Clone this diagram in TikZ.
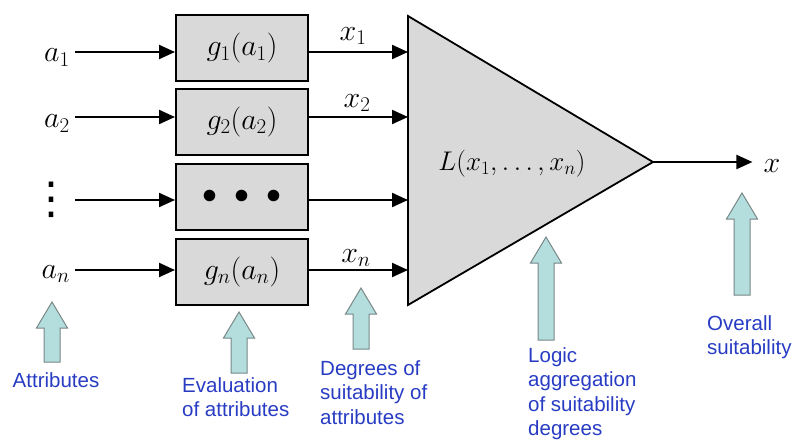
\RequirePackage{fix-cm}
\documentclass[tikz,border=0pt]{standalone}
\usepackage{fontspec}
\newfontfamily\notefont{Liberation Sans}
\newfontfamily\symfont{DejaVu Sans}
\usetikzlibrary{arrows.meta}

\definecolor{boxgray}{RGB}{217,217,217}
\definecolor{notecyan}{RGB}{180,222,222}
\definecolor{noteedge}{RGB}{120,135,135}
\definecolor{noteblue}{RGB}{40,60,195}

\tikzset{
  flow/.style={line width=2.2pt, -{Triangle[length=16pt,width=14pt]}},
  mathlabel/.style={font=\fontsize{30}{34}\selectfont, inner sep=0pt},
  evalbox/.style={mathlabel, draw, line width=2pt, fill=boxgray, minimum width=132pt, minimum height=66pt},
  note/.style={font=\notefont\fontsize{20.5}{24.5}\selectfont, text=noteblue, align=left, inner sep=0pt},
}

% light block arrow pointing up: centre x, top y, bottom y
\newcommand{\uparrowblock}[3]{%
  \draw[fill=notecyan, draw=noteedge, line width=1pt, line join=miter]
    (#1-8,#3) -- (#1-8,#2+26) -- (#1-15.5,#2+26) -- (#1,#2)
    -- (#1+15.5,#2+26) -- (#1+8,#2+26) -- (#1+8,#3) -- cycle;}

\begin{document}
\begin{tikzpicture}[x=1pt,y=-1pt]
    \useasboundingbox (0,0) rectangle (801,444);

    % signal levels
    \coordinate (r1) at (0,52);
    \coordinate (r2) at (0,117);
    \coordinate (r3) at (0,200);
    \coordinate (rn) at (0,270);
    \coordinate (lin) at (408,0);

    % attributes
    \node[mathlabel, anchor=base east] (a1) at (70,62) {$a_1$};
    \node[mathlabel, anchor=base east] (a2) at (70,128) {$a_2$};
    \node[mathlabel, font=\symfont\fontsize{44}{46}\selectfont] (adots) at (52,200) {⋮};
    \node[mathlabel, anchor=base east] (an) at (70,278) {$a_n$};

    % evaluation of attributes
    \node[evalbox] (g1) at (242,48.5) {$g_1(a_1)$};
    \node[evalbox] (g2) at (242,122) {$g_2(a_2)$};
    \node[evalbox] (g3) at (242,197) {$\bullet\hspace{10pt}\bullet\hspace{10pt}\bullet$};
    \node[evalbox] (gn) at (242,271.5) {$g_n(a_n)$};

    \draw[flow] ([xshift=5pt]a1.east |- r1) -- (g1.west |- r1);
    \draw[flow] ([xshift=5pt]a2.east |- r2) -- (g2.west |- r2);
    \draw[flow] (adots.center |- r3) ++(23,0) -- (g3.west |- r3);
    \draw[flow] ([xshift=5pt]an.east |- rn) -- (gn.west |- rn);

    % degrees of suitability
    \draw[flow] (g1.east |- r1) -- (lin |- r1);
    \draw[flow] (g2.east |- r2) -- (lin |- r2);
    \draw[flow] (g3.east |- r3) -- (lin |- r3);
    \draw[flow] (gn.east |- rn) -- (lin |- rn);
    \node[mathlabel] (x1) at (353,36) {$x_1$};
    \node[mathlabel] (x2) at (357,103) {$x_2$};
    \node[mathlabel] (xn) at (356,258) {$x_n$};

    % logic aggregation
    \filldraw[fill=boxgray, line width=1.8pt, line join=miter] (408,16) -- (653,162) -- (408,305) -- cycle;
    \coordinate (tip) at (653,162);
    \node[mathlabel, font=\fontsize{27}{30}\selectfont] (agg) at (512,164) {$L(x_1,\ldots,x_n)$};
    \node[mathlabel] (xout) at (772,166) {$x$};
    \draw[flow] (tip) -- ([xshift=-11pt]xout.west |- tip);

    % notes
    \uparrowblock{52}{302}{362}
    \node[note, anchor=north] (attr) at (56,372) {Attributes};
    \uparrowblock{239}{312}{373}
    \node[note, anchor=north west] (eval) at (182,377) {Evaluation\\of attributes};
    \uparrowblock{361}{288}{349}
    \node[note, anchor=north west] (deg) at (320,360) {Degrees of\\suitability of\\attributes};
    \uparrowblock{546}{237}{340}
    \node[note, anchor=north west] (logic) at (528,347) {Logic\\aggregation\\of suitability\\degrees};
    \uparrowblock{742}{193}{295}
    \node[note, anchor=north west] (overall) at (707,315) {Overall\\suitability};
\end{tikzpicture}
\end{document}
